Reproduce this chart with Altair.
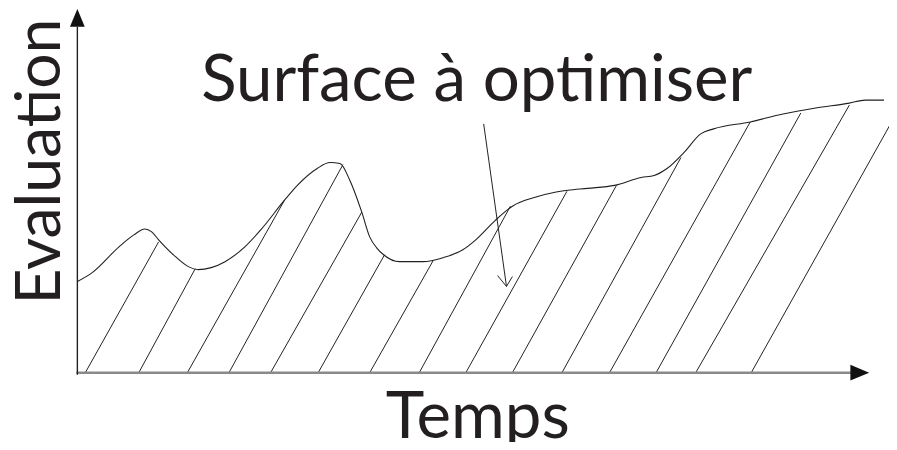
import altair as alt
import pandas as pd

# Curve ("Surface à optimiser"): Temps vs Evaluation
curve_t = [1, 16, 43, 58, 69, 76, 83, 100, 113, 123, 136, 150, 170, 186, 210, 223, 243, 256, 266, 276,
           288, 296, 303, 310, 326, 350, 370, 390, 403, 423, 440, 463, 483, 496, 516, 543, 570, 583, 596, 613,
           630, 643, 680, 713, 746, 780, 796, 815]
curve_e = [92, 101, 127, 139, 145, 142, 134, 117, 107, 104, 106, 112, 127, 144, 174, 189, 206, 212, 211, 194,
           162, 137, 126, 119, 112, 112, 116, 124, 134, 154, 168, 177, 182, 184, 186, 189, 197, 199, 206, 222,
           241, 246, 253, 261, 267, 272, 275, 275]

# Hatch lines: start on the time axis, end on the curve
hatch_t0 = [9, 63, 112, 154, 196, 244, 296, 346, 393, 440, 490, 538, 585, 625, 681]
hatch_t1 = [83, 120, 210, 269, 288, 311, 360, 438, 495, 545, 610, 680, 731, 780, 821]
hatch_e1 = [132, 105, 174, 210, 162, 119, 113, 168, 183, 189, 217, 253, 262, 270, 250]

# Annotation arrow (shaft + open head)
arrow_seg = ["shaft", "shaft", "head", "head", "head"]
arrow_ord = [0, 1, 0, 1, 2]
arrow_t = [411, 434, 425, 434, 440]
arrow_e = [251, 87, 98, 87, 97]

# Axis lines and arrow heads
axis_name = ["x", "y"]
axis_t0 = [0, 1]
axis_t1 = [783, 1]
axis_e0 = [0, -2]
axis_e1 = [0, 349]
axis_color = ["#8a8a8a", "#231f20"]
axis_width = [2.5, 1.4]

head_t = [790.5, 1]
head_e = [0, 358]
head_shape = ["M1,0L-1,-0.84L-1,0.84Z", "M0,-1L0.83,1L-0.83,1Z"]
head_size = [361, 324]

# Texts
label_text = ["Surface à optimiser", "Temps"]
label_t = [126, 405]
label_e = [274, -66]
label_align = ["left", "center"]

ytitle = "Evaluation"

XS = alt.Scale(domain=[0, 820], nice=False, zero=False)
YS = alt.Scale(domain=[0, 366], nice=False, zero=False)
INK = "#231f20"
FONT = "Lato"

curve_df = pd.DataFrame({"t": curve_t, "e": curve_e})
hatch_df = pd.DataFrame({"t0": hatch_t0, "t1": hatch_t1, "e0": [0] * len(hatch_t0), "e1": hatch_e1})
arrow_df = pd.DataFrame({"seg": arrow_seg, "o": arrow_ord, "t": arrow_t, "e": arrow_e})
axis_df = pd.DataFrame({"name": axis_name, "t0": axis_t0, "t1": axis_t1, "e0": axis_e0, "e1": axis_e1,
                        "c": axis_color, "w": axis_width})
head_df = pd.DataFrame({"t": head_t, "e": head_e, "shape": head_shape, "size": head_size})
label_df = pd.DataFrame({"text": label_text, "t": label_t, "e": label_e, "al": label_align})
ytitle_df = pd.DataFrame({"text": [ytitle], "t": [-17], "e": [213]})

curve = alt.Chart(curve_df).mark_line(color=INK, strokeWidth=1.1, interpolate="monotone").encode(
    x=alt.X("t:Q", scale=XS, axis=None), y=alt.Y("e:Q", scale=YS, axis=None))

hatch = alt.Chart(hatch_df).mark_rule(color=INK, strokeWidth=1.0).encode(
    x=alt.X("t0:Q", scale=XS, axis=None), x2="t1:Q",
    y=alt.Y("e0:Q", scale=YS, axis=None), y2="e1:Q")

arrow = alt.Chart(arrow_df).mark_line(color=INK, strokeWidth=1.0).encode(
    x=alt.X("t:Q", scale=XS, axis=None), y=alt.Y("e:Q", scale=YS, axis=None),
    detail="seg:N", order="o:Q")

axes = alt.Chart(axis_df).mark_rule().encode(
    x=alt.X("t0:Q", scale=XS, axis=None), x2="t1:Q",
    y=alt.Y("e0:Q", scale=YS, axis=None), y2="e1:Q",
    color=alt.Color("c:N", scale=None), strokeWidth=alt.StrokeWidth("w:Q", scale=None))

heads = alt.Chart(head_df).mark_point(filled=True, color="#111111", opacity=1, strokeWidth=0).encode(
    x=alt.X("t:Q", scale=XS, axis=None), y=alt.Y("e:Q", scale=YS, axis=None),
    shape=alt.Shape("shape:N", scale=None), size=alt.Size("size:Q", scale=None))

labels_l = alt.Chart(label_df).transform_filter(alt.datum.al == "left").mark_text(
    font=FONT, fontSize=66, color=INK, align="left", baseline="alphabetic").encode(
    x=alt.X("t:Q", scale=XS, axis=None), y=alt.Y("e:Q", scale=YS, axis=None), text="text:N")

labels_c = alt.Chart(label_df).transform_filter(alt.datum.al == "center").mark_text(
    font=FONT, fontSize=66, color=INK, align="center", baseline="alphabetic").encode(
    x=alt.X("t:Q", scale=XS, axis=None), y=alt.Y("e:Q", scale=YS, axis=None), text="text:N")

ylab = alt.Chart(ytitle_df).mark_text(font=FONT, fontSize=63, color=INK, align="center",
                                      baseline="alphabetic", angle=270).encode(
    x=alt.X("t:Q", scale=XS, axis=None), y=alt.Y("e:Q", scale=YS, axis=None), text="text:N")

chart = alt.layer(hatch, curve, arrow, axes, heads, labels_l, labels_c, ylab).properties(
    width=820, height=366,
    autosize=alt.AutoSizeParams(type="none"),
    padding={"left": 69, "top": 0, "right": 0, "bottom": 68},
    background="white",
).configure_view(stroke=None)

chart.save("out.html", embed_options={"renderer": "svg", "actions": False})
